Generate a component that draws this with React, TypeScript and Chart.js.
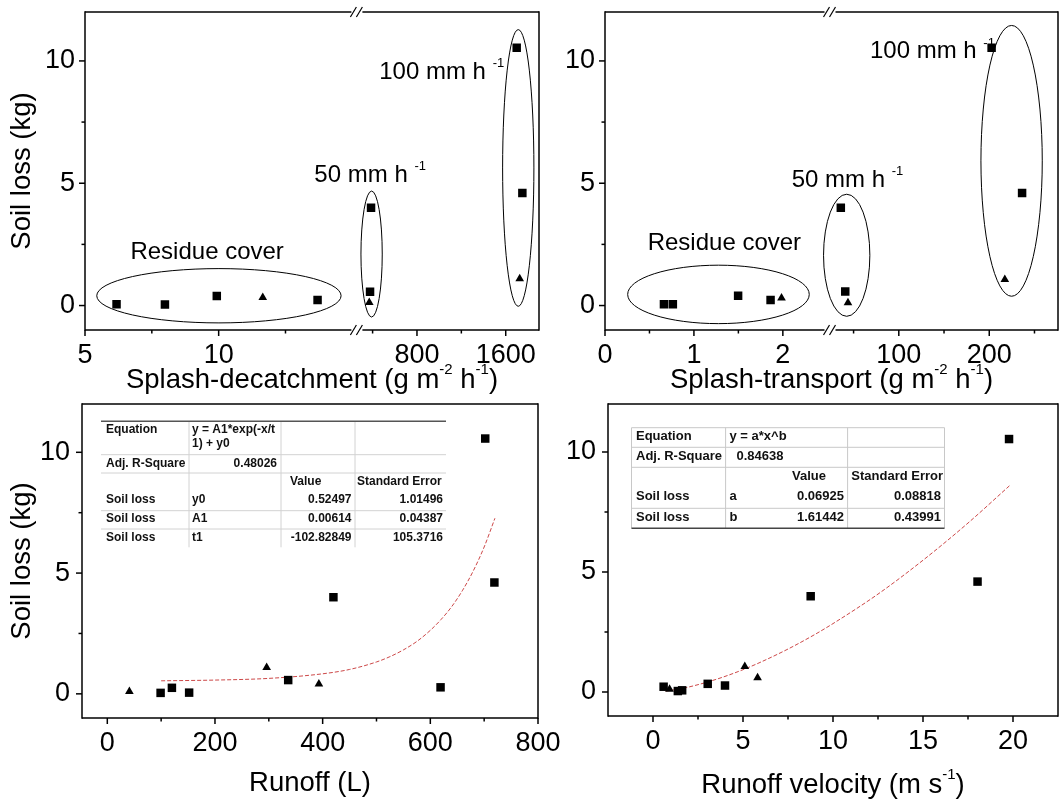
import React, { useEffect, useRef } from "react";
import { Chart, registerables } from "chart.js";

Chart.register(...registerables);

const FONT = "'Liberation Sans', Arial, Helvetica, sans-serif";

// ---------------- data ----------------
// Soil loss axis (kg)
const soilLossMajorTicks = [0, 5, 10];
const soilLossMinorTicks = [2.5, 7.5];

// Panel 1: splash-detachment (g m-2 h-1) vs soil loss (kg)
const detachResidueSquareX = [6.18, 7.99, 9.93, 13.7];
const detachResidueSquareY = [0.05, 0.04, 0.39, 0.23];
const detachResidueTriangleX = [11.65];
const detachResidueTriangleY = [0.33];
const detachRainSquareX = [386, 377, 1699, 1750];
const detachRainSquareY = [4.0, 0.56, 10.54, 4.6];
const detachRainTriangleX = [370, 1726];
const detachRainTriangleY = [0.12, 1.1];
const detachLowMajorTicks = [5, 10];
const detachLowMinorTicks = [7.5, 12.5];
const detachHighMajorTicks = [800, 1600];
const detachHighMinorTicks = [400, 1200];
// circled groups: [xMin, xMax, yMin, yMax] in data units
const detachGroupResidue = [5.44, 14.58, -0.71, 1.51];
const detachGroup50 = [295, 487, -0.47, 4.68];
const detachGroup100 = [1572, 1854, -0.03, 11.28];

// Panel 2: splash-transport (g m-2 h-1) vs soil loss (kg)
const transportResidueSquareX = [0.663, 0.763, 1.497, 1.862];
const transportResidueSquareY = [0.05, 0.05, 0.4, 0.23];
const transportResidueTriangleX = [1.985];
const transportResidueTriangleY = [0.31];
const transportRainSquareX = [35.9, 40.8, 202.6, 236.3];
const transportRainSquareY = [4.0, 0.57, 10.54, 4.6];
const transportRainTriangleX = [43.8, 217.2];
const transportRainTriangleY = [0.11, 1.06];
const transportLowMajorTicks = [0, 1, 2];
const transportLowMinorTicks = [0.5, 1.5];
const transportHighMajorTicks = [100, 200];
const transportHighMinorTicks = [50, 150, 250];
const transportGroupResidue = [0.255, 2.297, -0.74, 1.65];
const transportGroup50 = [16.8, 68.0, -0.44, 4.55];
const transportGroup100 = [190.8, 258.6, 0.38, 11.45];

// Panel 3: runoff (L) vs soil loss (kg)
const runoffSquareX = [99, 120, 152, 336, 420, 619, 702, 719];
const runoffSquareY = [0.04, 0.25, 0.05, 0.57, 4.0, 0.27, 10.57, 4.61];
const runoffTriangleX = [41, 296, 393];
const runoffTriangleY = [0.1, 1.09, 0.41];
const runoffFitX = [100, 200, 300, 400, 450, 500, 525, 550, 575, 600, 620, 640, 660, 680, 700, 720];
const runoffFitY = [0.54, 0.57, 0.64, 0.83, 1.01, 1.32, 1.54, 1.82, 2.17, 2.63, 3.08, 3.62, 4.29, 5.1, 6.08, 7.27];
const runoffMajorTicks = [0, 200, 400, 600, 800];
const runoffMinorTicks = [100, 300, 500, 700];
const runoffFitEquation = ["y = A1*exp(-x/t", "1) + y0"];
const runoffFitAdjR2 = "0.48026";
const runoffFitParams = ["y0", "A1", "t1"];
const runoffFitValues = ["0.52497", "0.00614", "-102.82849"];
const runoffFitErrors = ["1.01496", "0.04387", "105.3716"];

// Panel 4: runoff velocity (m s-1) vs soil loss (kg)
const velocitySquareX = [0.59, 1.38, 1.62, 3.04, 4.0, 8.76, 18.03, 19.78];
const velocitySquareY = [0.22, 0.04, 0.07, 0.34, 0.27, 3.99, 4.6, 10.54];
const velocityTriangleX = [0.92, 5.1, 5.81];
const velocityTriangleY = [0.11, 1.06, 0.59];
const velocityFitX = [0.7, 1, 1.5, 2, 3, 4, 5, 6, 7.5, 9, 10, 12.5, 15, 17.5, 19.8];
const velocityFitY = [0.04, 0.07, 0.13, 0.21, 0.41, 0.65, 0.93, 1.25, 1.79, 2.4, 2.85, 4.08, 5.49, 7.04, 8.59];
const velocityMajorTicks = [0, 5, 10, 15, 20];
const velocityMinorTicks = [2.5, 7.5, 12.5, 17.5];
const velocityFitEquation = "y = a*x^b";
const velocityFitAdjR2 = "0.84638";
const velocityFitParams = ["a", "b"];
const velocityFitValues = ["0.06925", "1.61442"];
const velocityFitErrors = ["0.08818", "0.43991"];

const tableHead = { equation: "Equation", adj: "Adj. R-Square", value: "Value", error: "Standard Error", row: "Soil loss" };

// ---------------- helpers ----------------
type Part = { t: string; sup?: boolean };

const pts = (xs: number[], ys: number[]) => xs.map((x, i) => ({ x, y: ys[i] }));
const tickList = (major: number[], minor: number[]) =>
  [...major, ...minor].sort((a, b) => a - b).map((v) => ({ value: v }));
const labelOnly = (major: number[]) => (v: any) => (major.includes(Number(v)) ? String(v) : "");

function setFont(ctx: any, size: number, bold = false) {
  ctx.font = `${bold ? "bold " : ""}${size}px ${FONT}`;
}

function drawRich(ctx: any, parts: Part[], x: number, y: number, size: number, align: "left" | "center") {
  const sup = Math.round(size * 0.56);
  const widths = parts.map((p) => {
    setFont(ctx, p.sup ? sup : size);
    return ctx.measureText(p.t).width;
  });
  const total = widths.reduce((a, b) => a + b, 0);
  let cx = align === "center" ? x - total / 2 : x;
  ctx.textAlign = "left";
  ctx.textBaseline = "middle";
  parts.forEach((p, i) => {
    setFont(ctx, p.sup ? sup : size);
    ctx.fillText(p.t, cx, p.sup ? y - size * 0.36 : y);
    cx += widths[i];
  });
}

function line(ctx: any, x0: number, y0: number, x1: number, y1: number) {
  ctx.beginPath();
  ctx.moveTo(x0, y0);
  ctx.lineTo(x1, y1);
  ctx.stroke();
}
function txt(ctx: any, s: string, x: number, y: number, align: string) {
  ctx.textAlign = align;
  ctx.fillText(s, x, y);
}

const tickFont = { family: FONT, size: 27, lineHeight: 1.2 };
const hiddenGrid = { display: true, drawOnChartArea: false, drawTicks: true, tickLength: 6, tickColor: "rgba(0,0,0,0)" };

const noPad = (s: any) => {
  s.paddingTop = 0;
  s.paddingBottom = 0;
  s.paddingLeft = 0;
  s.paddingRight = 0;
};

function yScale(width: number, pad: number) {
  return {
    type: "linear",
    position: "left",
    min: -1,
    max: 12,
    afterBuildTicks: (s: any) => {
      s.ticks = tickList(soilLossMajorTicks, soilLossMinorTicks);
    },
    afterFit: (s: any) => {
      s.width = width;
      noPad(s);
    },
    ticks: { font: tickFont, color: "#000", padding: pad, autoSkip: false, callback: labelOnly(soilLossMajorTicks) },
    grid: hiddenGrid,
    border: { display: false },
  };
}

function xScale(min: number, max: number, major: number[], minor: number[], height: number, extra: any = {}) {
  return {
    type: "linear",
    position: "bottom",
    axis: "x",
    min,
    max,
    ...extra,
    afterBuildTicks: (s: any) => {
      s.ticks = tickList(major, minor);
    },
    afterFit: (s: any) => {
      s.height = height;
      noPad(s);
    },
    ticks: {
      font: tickFont,
      color: "#000",
      padding: 3,
      autoSkip: false,
      maxRotation: 0,
      minRotation: 0,
      callback: labelOnly(major),
    },
    grid: hiddenGrid,
    border: { display: false },
  };
}

const square = (data: any[], xAxisID?: string) => ({
  type: "scatter",
  data,
  xAxisID,
  pointStyle: "rect",
  pointRadius: 6,
  backgroundColor: "#000",
  borderColor: "#000",
  borderWidth: 0,
});
const triangle = (data: any[], xAxisID?: string) => ({
  type: "scatter",
  data,
  xAxisID,
  pointStyle: "triangle",
  pointRadius: 5,
  backgroundColor: "#000",
  borderColor: "#000",
  borderWidth: 0,
});
const fitLine = (data: any[]) => ({
  type: "scatter",
  data,
  showLine: true,
  pointRadius: 0,
  borderColor: "rgba(195,40,40,0.85)",
  borderWidth: 1,
  borderDash: [4, 2],
  cubicInterpolationMode: "monotone",
  fill: false,
});

type Deco = {
  yTitle?: string;
  xTitle: Part[];
  xTitleGap: number;
  breakAfter?: string;
  groups?: { scale: string; ext: number[] }[];
  notes?: { scale: string; x: number; y: number; parts: Part[] }[];
  table?: (ctx: any, area: any) => void;
};

function decoPlugin(d: Deco) {
  return {
    id: "deco",
    afterDatasetsDraw(chart: any) {
      const ctx = chart.ctx;
      const ys = chart.scales.y;
      ctx.save();
      ctx.strokeStyle = "#000";
      ctx.lineWidth = 1;
      (d.groups || []).forEach((g) => {
        const xs = chart.scales[g.scale];
        const x0 = xs.getPixelForValue(g.ext[0]);
        const x1 = xs.getPixelForValue(g.ext[1]);
        const y0 = ys.getPixelForValue(g.ext[2]);
        const y1 = ys.getPixelForValue(g.ext[3]);
        ctx.beginPath();
        ctx.ellipse((x0 + x1) / 2, (y0 + y1) / 2, Math.abs(x1 - x0) / 2, Math.abs(y1 - y0) / 2, 0, 0, Math.PI * 2);
        ctx.stroke();
      });
      ctx.fillStyle = "#000";
      (d.notes || []).forEach((n) => {
        const xs = chart.scales[n.scale];
        drawRich(ctx, n.parts, xs.getPixelForValue(n.x), ys.getPixelForValue(n.y), 24, "left");
      });
      ctx.restore();
    },
    afterDraw(chart: any) {
      const ctx = chart.ctx;
      const { left, right, top, bottom } = chart.chartArea;
      ctx.save();
      ctx.strokeStyle = "#000";
      ctx.lineWidth = 1.5;
      // tick marks (major long, minor short)
      Object.values(chart.scales).forEach((s: any) => {
        s.ticks.forEach((t: any) => {
          const len = t.label === "" ? 3.5 : 6;
          const p = s.getPixelForValue(t.value);
          if (s.isHorizontal()) line(ctx, p, bottom, p, bottom + len);
          else line(ctx, left, p, left - len, p);
        });
      });
      // frame
      line(ctx, left, top - 0.75, left, bottom + 0.75);
      line(ctx, right, top - 0.75, right, bottom + 0.75);
      if (d.breakAfter) {
        const bx = chart.scales[d.breakAfter].right;
        [top, bottom].forEach((y) => {
          line(ctx, left, y, bx - 6, y);
          line(ctx, bx + 5, y, right, y);
        });
        ctx.lineWidth = 1.2;
        [top, bottom].forEach((y) => {
          [-4, 2].forEach((dx) => line(ctx, bx + dx - 3, y + 5, bx + dx + 3, y - 5));
        });
      } else {
        line(ctx, left, top, right, top);
        line(ctx, left, bottom, right, bottom);
      }
      // titles
      ctx.fillStyle = "#000";
      drawRich(ctx, d.xTitle, (left + right) / 2, bottom + d.xTitleGap, 27.5, "center");
      if (d.yTitle) {
        ctx.save();
        ctx.translate(22, (top + bottom) / 2);
        ctx.rotate(-Math.PI / 2);
        drawRich(ctx, [{ t: d.yTitle }], 0, 0, 27.5, "center");
        ctx.restore();
      }
      if (d.table) d.table(ctx, chart.chartArea);
      ctx.restore();
    },
  };
}

function drawRunoffTable(ctx: any, area: any) {
  const ox = area.left + 19;
  const oy = area.top + 17.3;
  const W = 345;
  const H = 126;
  ctx.save();
  ctx.lineWidth = 1;
  ctx.strokeStyle = "#d2d2d2";
  [88, 180, 254].forEach((c) => line(ctx, ox + c, oy, ox + c, oy + H));
  [33.4, 51.7, 89.4, 107.7].forEach((r) => line(ctx, ox, oy + r, ox + W, oy + r));
  ctx.lineWidth = 1.5;
  ctx.strokeStyle = "#555";
  line(ctx, ox, oy, ox + W, oy);
  ctx.fillStyle = "#111";
  setFont(ctx, 12, true);
  ctx.textBaseline = "middle";
  txt(ctx, tableHead.equation, ox + 5, oy + 8.7, "left");
  runoffFitEquation.forEach((s, i) => txt(ctx, s, ox + 91, oy + 8.7 + i * 14, "left"));
  txt(ctx, tableHead.adj, ox + 5, oy + 42, "left");
  txt(ctx, runoffFitAdjR2, ox + 176, oy + 42, "right");
  txt(ctx, tableHead.value, ox + 189, oy + 60.5, "left");
  txt(ctx, tableHead.error, ox + 256, oy + 60.5, "left");
  runoffFitParams.forEach((p, i) => {
    const y = oy + 78.5 + i * 18.75;
    txt(ctx, tableHead.row, ox + 5, y, "left");
    txt(ctx, p, ox + 91, y, "left");
    txt(ctx, runoffFitValues[i], ox + 250.5, y, "right");
    txt(ctx, runoffFitErrors[i], ox + 342, y, "right");
  });
  ctx.restore();
}

function drawVelocityTable(ctx: any, area: any) {
  const ox = area.left + 23.5;
  const oy = area.top + 23.7;
  const W = 313;
  const H = 100.6;
  ctx.save();
  ctx.lineWidth = 1;
  ctx.strokeStyle = "#c8c8c8";
  [0, 94.1, 216.1, W].forEach((c) => line(ctx, ox + c, oy, ox + c, oy + H));
  [0, 19.6, 39.6, 80.6].forEach((r) => line(ctx, ox, oy + r, ox + W, oy + r));
  ctx.lineWidth = 1.5;
  ctx.strokeStyle = "#444";
  line(ctx, ox, oy + H, ox + W, oy + H);
  ctx.fillStyle = "#111";
  setFont(ctx, 13, true);
  ctx.textBaseline = "middle";
  txt(ctx, tableHead.equation, ox + 4.5, oy + 8.6, "left");
  txt(ctx, velocityFitEquation, ox + 98, oy + 8.6, "left");
  txt(ctx, tableHead.adj, ox + 4.5, oy + 28.6, "left");
  txt(ctx, velocityFitAdjR2, ox + 105, oy + 28.6, "left");
  txt(ctx, tableHead.value, ox + 194.5, oy + 48.6, "right");
  txt(ctx, tableHead.error, ox + 219.8, oy + 48.6, "left");
  velocityFitParams.forEach((p, i) => {
    const y = oy + 68.6 + i * 20.7;
    txt(ctx, tableHead.row, ox + 4.5, y, "left");
    txt(ctx, p, ox + 98, y, "left");
    txt(ctx, velocityFitValues[i], ox + 212.5, y, "right");
    txt(ctx, velocityFitErrors[i], ox + 309.5, y, "right");
  });
  ctx.restore();
}

function baseOptions(scales: any, padding: any) {
  return {
    responsive: false,
    animation: false,
    devicePixelRatio: 1,
    events: [],
    layout: { padding },
    plugins: { legend: { display: false }, tooltip: { enabled: false }, title: { display: false } },
    scales,
  };
}

const sup1: Part[] = [{ t: "-1", sup: true }];

function detachConfig(): any {
  return {
    type: "scatter",
    data: {
      datasets: [
        square(pts(detachResidueSquareX, detachResidueSquareY), "x1"),
        triangle(pts(detachResidueTriangleX, detachResidueTriangleY), "x1"),
        square(pts(detachRainSquareX, detachRainSquareY), "x2"),
        triangle(pts(detachRainTriangleX, detachRainTriangleY), "x2"),
      ],
    },
    options: baseOptions(
      {
        x1: xScale(5, 15.19, detachLowMajorTicks, detachLowMinorTicks, 68, { stack: "xb", stackWeight: 273 }),
        x2: xScale(263, 1900, detachHighMajorTicks, detachHighMinorTicks, 68, { stack: "xb", stackWeight: 182 }),
        y: yScale(85, 4),
      },
      { left: 0, top: 12, right: 5, bottom: 0 }
    ),
    plugins: [
      decoPlugin({
        yTitle: "Soil loss (kg)",
        xTitle: [{ t: "Splash-decatchment (g m" }, { t: "-2", sup: true }, { t: " h" }, { t: "-1", sup: true }, { t: ")" }],
        xTitleGap: 50,
        breakAfter: "x1",
        groups: [
          { scale: "x1", ext: detachGroupResidue },
          { scale: "x2", ext: detachGroup50 },
          { scale: "x2", ext: detachGroup100 },
        ],
        notes: [
          { scale: "x1", x: 6.7, y: 2.19, parts: [{ t: "Residue cover" }] },
          { scale: "x1", x: 13.58, y: 5.33, parts: [{ t: "50 mm h " }, ...sup1] },
          { scale: "x2", x: 460, y: 9.55, parts: [{ t: "100 mm h " }, ...sup1] },
        ],
      }),
    ],
  };
}

function transportConfig(): any {
  return {
    type: "scatter",
    data: {
      datasets: [
        square(pts(transportResidueSquareX, transportResidueSquareY), "x1"),
        triangle(pts(transportResidueTriangleX, transportResidueTriangleY), "x1"),
        square(pts(transportRainSquareX, transportRainSquareY), "x2"),
        triangle(pts(transportRainTriangleX, transportRainTriangleY), "x2"),
      ],
    },
    options: baseOptions(
      {
        x1: xScale(0, 2.536, transportLowMajorTicks, transportLowMinorTicks, 68, { stack: "xb", stackWeight: 227 }),
        x2: xScale(24.5, 276, transportHighMajorTicks, transportHighMinorTicks, 68, { stack: "xb", stackWeight: 229 }),
        y: yScale(60, 4),
      },
      { left: 0, top: 12, right: 3, bottom: 0 }
    ),
    plugins: [
      decoPlugin({
        xTitle: [{ t: "Splash-transport (g m" }, { t: "-2", sup: true }, { t: " h" }, { t: "-1", sup: true }, { t: ")" }],
        xTitleGap: 50,
        breakAfter: "x1",
        groups: [
          { scale: "x1", ext: transportGroupResidue },
          { scale: "x2", ext: transportGroup50 },
          { scale: "x2", ext: transportGroup100 },
        ],
        notes: [
          { scale: "x1", x: 0.48, y: 2.53, parts: [{ t: "Residue cover" }] },
          { scale: "x1", x: 2.1, y: 5.12, parts: [{ t: "50 mm h " }, ...sup1] },
          { scale: "x2", x: 68.1, y: 10.37, parts: [{ t: "100 mm h " }, ...sup1] },
        ],
      }),
    ],
  };
}

function runoffConfig(): any {
  return {
    type: "scatter",
    data: {
      datasets: [
        square(pts(runoffSquareX, runoffSquareY)),
        triangle(pts(runoffTriangleX, runoffTriangleY)),
        fitLine(pts(runoffFitX, runoffFitY)),
      ],
    },
    options: baseOptions(
      {
        x: xScale(-47, 800, runoffMajorTicks, runoffMinorTicks, 91),
        y: yScale(82, 6),
      },
      { left: 0, top: 2, right: 62, bottom: 0 }
    ),
    plugins: [
      decoPlugin({
        yTitle: "Soil loss (kg)",
        xTitle: [{ t: "Runoff (L)" }],
        xTitleGap: 65,
        table: drawRunoffTable,
      }),
    ],
  };
}

function velocityConfig(): any {
  return {
    type: "scatter",
    data: {
      datasets: [
        square(pts(velocitySquareX, velocitySquareY)),
        triangle(pts(velocityTriangleX, velocityTriangleY)),
        fitLine(pts(velocityFitX, velocityFitY)),
      ],
    },
    options: baseOptions(
      {
        x: xScale(-2.5, 22.5, velocityMajorTicks, velocityMinorTicks, 93),
        y: yScale(63, 6),
      },
      { left: 0, top: 1, right: 3, bottom: 0 }
    ),
    plugins: [
      decoPlugin({
        xTitle: [{ t: "Runoff velocity (m s" }, ...sup1, { t: ")" }],
        xTitleGap: 69,
        table: drawVelocityTable,
      }),
    ],
  };
}

function ChartCanvas(props: { make: () => any; left: number; top: number; width: number; height: number }) {
  const ref = useRef<HTMLCanvasElement>(null);
  useEffect(() => {
    const chart = new Chart(ref.current as HTMLCanvasElement, props.make());
    return () => chart.destroy();
  }, []);
  return (
    <canvas
      ref={ref}
      width={props.width}
      height={props.height}
      style={{ position: "absolute", left: props.left, top: props.top, width: props.width, height: props.height }}
    />
  );
}

export default function App() {
  return (
    <div style={{ position: "fixed", left: 0, top: 0, width: 1064, height: 809, background: "#fff", overflow: "hidden" }}>
      <ChartCanvas make={detachConfig} left={0} top={0} width={545} height={398} />
      <ChartCanvas make={transportConfig} left={545} top={0} width={519} height={398} />
      <ChartCanvas make={runoffConfig} left={0} top={398} width={600} height={411} />
      <ChartCanvas make={velocityConfig} left={545} top={398} width={519} height={411} />
    </div>
  );
}
